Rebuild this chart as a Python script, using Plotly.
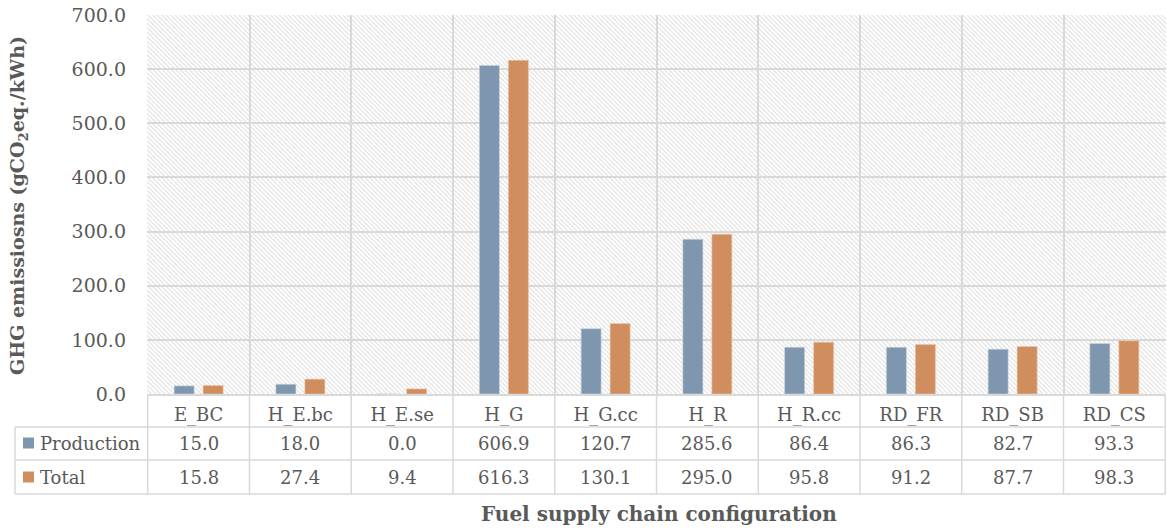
import base64
import plotly.graph_objects as go

categories = ["E_BC", "H_E.bc", "H_E.se", "H_G", "H_G.cc", "H_R", "H_R.cc", "RD_FR", "RD_SB", "RD_CS"]
production = [15.0, 18.0, 0.0, 606.9, 120.7, 285.6, 86.4, 86.3, 82.7, 93.3]
total = [15.8, 27.4, 9.4, 616.3, 130.1, 295.0, 95.8, 91.2, 87.7, 98.3]
series_names = ["Production", "Total"]
y_ticks = [0, 100, 200, 300, 400, 500, 600, 700]

W, H = 1167, 529
L, R, T, B = 147, 1, 15, 135
PW, PH = W - L - R, H - T - B
FONT = "DejaVu Serif"
TXT = "#595959"
GRID = "#d9d9d9"
C_PROD = "#7f97ae"
C_TOT = "#d08e5e"


def px_x(px):
    return (px - L) / PW


def px_y(py):
    return (H - B - py) / PH


fig = go.Figure()
fig.add_trace(go.Bar(x=categories, y=production, name=series_names[0],
                     marker=dict(color=C_PROD, line=dict(color="#c9d3dd", width=0.6))))
fig.add_trace(go.Bar(x=categories, y=total, name=series_names[1],
                     marker=dict(color=C_TOT, line=dict(color="#ecc8ad", width=0.6))))

# hatched plot-area background
svg = (f'<svg xmlns="http://www.w3.org/2000/svg" width="{PW}" height="{PH}">'
       '<defs><pattern id="h" width="3.2" height="3.2" patternUnits="userSpaceOnUse" '
       'patternTransform="rotate(-45)"><rect width="3.2" height="3.2" fill="white"/>'
       '<line x1="0.8" y1="0" x2="0.8" y2="3.2" stroke="#e0e0e0" stroke-width="1.1"/></pattern></defs>'
       '<rect width="100%" height="100%" fill="url(#h)"/></svg>')
uri = "data:image/svg+xml;base64," + base64.b64encode(svg.encode()).decode()
fig.add_layout_image(dict(source=uri, xref="paper", yref="paper", x=0, y=1, sizex=1, sizey=1,
                          sizing="stretch", layer="below", xanchor="left", yanchor="top"))

shapes = []
line = dict(color=GRID, width=1.5)
# horizontal table lines
for py in (427, 460, 494):
    shapes.append(dict(type="line", xref="paper", yref="paper", x0=px_x(15), x1=1,
                       y0=px_y(py), y1=px_y(py), line=line))
shapes.append(dict(type="line", xref="paper", yref="paper", x0=px_x(15), x1=px_x(15),
                   y0=px_y(427), y1=px_y(494), line=line))
# vertical table lines at category boundaries
for i in range(len(categories) + 1):
    shapes.append(dict(type="line", xref="x", yref="paper", x0=i - 0.5, x1=i - 0.5,
                       y0=0, y1=px_y(494), line=line))
# legend keys
for color, py in ((C_PROD, 443), (C_TOT, 477)):
    shapes.append(dict(type="rect", xref="paper", yref="paper", x0=px_x(23), x1=px_x(34),
                       y0=px_y(py - 5.5), y1=px_y(py + 5.5), fillcolor=color, line=dict(width=0)))

ann = []
for vals, py in ((production, 443), (total, 477)):
    for c, v in zip(categories, vals):
        ann.append(dict(x=c, xref="x", y=px_y(py), yref="paper", text=f"{v:.1f}", showarrow=False,
                        font=dict(family=FONT, size=18, color=TXT), xanchor="center", yanchor="middle"))
for name, py in zip(series_names, (443, 477)):
    ann.append(dict(x=px_x(38), xref="paper", y=px_y(py), yref="paper", text=name, showarrow=False,
                    font=dict(family=FONT, size=18, color=TXT), xanchor="left", yanchor="middle"))
ann.append(dict(x=px_x(659), xref="paper", y=px_y(514), yref="paper",
                text="<b>Fuel supply chain configuration</b>", showarrow=False,
                font=dict(family=FONT, size=20, color=TXT), xanchor="center", yanchor="middle"))
ann.append(dict(x=px_x(18), xref="paper", y=px_y(206), yref="paper",
                text="<b>GHG emissiosns (gCO<sub>2</sub>eq./kWh)</b>", showarrow=False, textangle=-90,
                font=dict(family=FONT, size=19, color=TXT), xanchor="center", yanchor="middle"))

fig.update_layout(
    width=W, height=H,
    margin=dict(l=L, r=R, t=T, b=B),
    paper_bgcolor="white", plot_bgcolor="rgba(0,0,0,0)",
    barmode="group", bargap=0.43, bargroupgap=0.31,
    showlegend=False,
    shapes=shapes, annotations=ann,
    font=dict(family=FONT, color=TXT),
)
fig.update_xaxes(type="category", tickson="boundaries", showgrid=True, gridcolor=GRID, gridwidth=1.5,
                 showline=True, linecolor=GRID, linewidth=1.5, ticks="",
                 tickfont=dict(family=FONT, size=18, color=TXT), ticklabelstandoff=4)
fig.update_yaxes(range=[0, 700], tickvals=y_ticks, tickformat=".1f", showgrid=True, gridcolor=GRID,
                 gridwidth=1.5, zeroline=False, ticks="", ticklabelstandoff=20,
                 tickfont=dict(family=FONT, size=19, color=TXT))

fig.write_html("out.html", config={"displayModeBar": False},
               post_script="document.body.style.margin='0';document.body.style.overflow='hidden';")
